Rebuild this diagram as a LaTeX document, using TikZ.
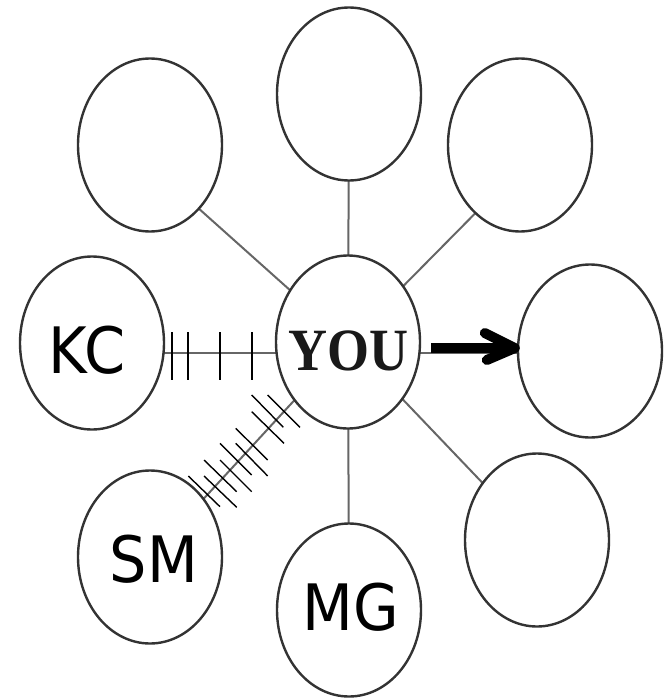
\documentclass[tikz,border=0pt]{standalone}
\usepackage{fontspec}
\newfontfamily\lblfont{DejaVu Sans}
\newfontfamily\youfont{Liberation Serif}
\usetikzlibrary{shapes.geometric,calc,backgrounds}
\begin{document}
\begin{tikzpicture}[x=1pt,y=-1pt,
  bubble/.style={ellipse,draw=black!80,line width=2.4pt,fill=white,
    minimum width=144pt,minimum height=173pt,inner sep=0pt},
  conn/.style={draw=black!60,line width=2pt},
  tickmark/.style={draw=black,line width=1.4pt},
  lbl/.style={font=\lblfont\fontsize{64}{64}\selectfont,inner sep=0pt},
  youlbl/.style={font=\youfont\bfseries\fontsize{60}{60}\selectfont,inner sep=0pt,text=black!90},
  bigarrow/.style={draw=black,line width=10pt}
]
\useasboundingbox (0,0) rectangle (669,698);

% ellipses
\node[bubble] (T)   at (349,94)  {};
\node[bubble] (TL)  at (150,145) {};
\node[bubble] (TR)  at (520,145) {};
\node[bubble] (YOU) at (348,342) {};
\node[bubble] (KC)  at (92,343)  {};
\node[bubble] (R)   at (590,351) {};
\node[bubble] (SM)  at (150,557) {};
\node[bubble] (MG)  at (349,610) {};
\node[bubble] (BR)  at (537,540) {};

% labels
\node[lbl] (kctext) at (87,350) {\scalebox{0.92}[1]{KC}};
\node[lbl] (smtext) at (154,559) {\scalebox{0.92}[1]{SM}};
\node[lbl] (mgtext) at (351,607) {\scalebox{0.92}[1]{MG}};
\node[youlbl] (youtext) at (348.5,351) {\scalebox{0.9}[1]{YOU}};

% connectors behind the ellipses
\begin{scope}[on background layer]
  \draw[conn] ([yshift=-20pt]TL.center) -- (YOU.center);
  \draw[conn] (T.center) -- (YOU.center);
  \draw[conn] ([yshift=-23pt]TR.center) -- (YOU.center);
  \draw[conn] (YOU.center) -- (MG.center);
  \draw[conn] (YOU.center) -- (BR.center);
  \draw[conn] (YOU.center) -- (SM.center);
  \draw[conn] ([yshift=-10pt]KC.center) -- ([yshift=-11pt]YOU.center);
  \draw[conn] ([yshift=-11pt]YOU.center) -- ([yshift=-2pt]R.center);
\end{scope}

% tick marks on the KC line
\foreach \x in {172,188,220,252}
  \draw[tickmark] (\x,332) -- (\x,380);

% tick marks on the SM line
\draw[tickmark] (267.7,395) -- (300,427.3);
\draw[tickmark] (251.7,395) -- (283.3,427.3);
\draw[tickmark] (251.7,411.7) -- (284,443.3);
\draw[tickmark] (235.7,428.3) -- (267.7,460);
\draw[tickmark] (220,443.3) -- (251.7,475);
\draw[tickmark] (235.7,443.3) -- (267.7,476);
\draw[tickmark] (204,460) -- (236.7,491.7);
\draw[tickmark] (220,460) -- (251.7,491.7);
\draw[tickmark] (188.3,476) -- (220,506.7);
\draw[tickmark] (204,476) -- (236.7,507.3);

% thick arrow to the right ellipse
\coordinate (arrstart) at ([xshift=10pt,yshift=-6pt]YOU.east);
\coordinate (arrtip) at ([xshift=3pt,yshift=3pt]R.west);
\draw[bigarrow] (arrstart) -- ($(arrtip)+(-6,0)$);
\draw[bigarrow,line cap=round,line join=round]
  ($(arrtip)+(-35,-15)$) -- ($(arrtip)+(-5,0)$) -- ($(arrtip)+(-33,12)$);
\end{tikzpicture}
\end{document}
